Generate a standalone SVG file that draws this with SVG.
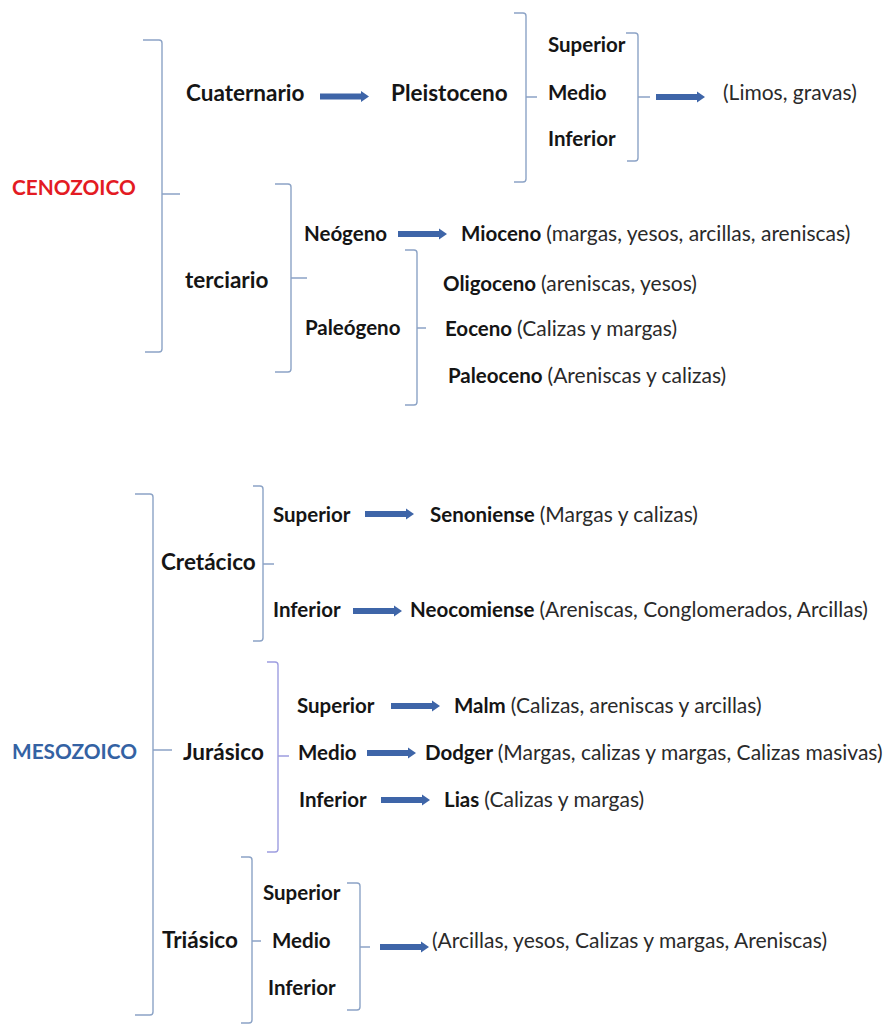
<svg xmlns="http://www.w3.org/2000/svg" xmlns:xlink="http://www.w3.org/1999/xlink" width="889" height="1024" viewBox="0 0 889 1024">
<style>
text{font-family:Lato,"Liberation Sans",sans-serif;fill:#151515}
.L{font-size:22.5px;font-weight:bold}
.S{font-size:20.5px;font-weight:bold}
.n{font-size:21px;font-weight:normal;fill:#2a2a2a}
.N{font-size:21px;font-weight:normal;fill:#2a2a2a}
.era{font-size:20.8px;font-weight:bold}
.br{fill:none;stroke:#8ca3c6;stroke-width:1.4}
.brp{fill:none;stroke:#9d9de0;stroke-width:1.4}
.ar{fill:#3e65a8}
</style>
<defs>
<path id="arr" d="M0,-3 H41 V-5.6 L49,0 L41,5.6 V3 H0 Z"/>
</defs>
<rect width="889" height="1024" fill="#ffffff"/>
<g id="connectors">
<path class="br" d="M143,40 H159 Q162,40 162,43 V349 Q162,352 159,352 H145 M162,194 H180"/>
<path class="br" d="M514,13 H523 Q526,13 526,16 V179 Q526,182 523,182 H514 M526,97 H537"/>
<path class="br" d="M626,33 H635 Q638,33 638,36 V158 Q638,161 635,161 H627 M638,97 H650"/>
<path class="br" d="M275,184 H288 Q291,184 291,187 V369 Q291,372 288,372 H275 M291,278 H307"/>
<path class="br" d="M405,250 H414 Q417,250 417,253 V402 Q417,405 414,405 H405 M417,328 H426"/>
<path class="br" d="M135,494 H150 Q153,494 153,497 V1012 Q153,1015 150,1015 H135 M153,750 H172"/>
<path class="br" d="M253,486 H260 Q263,486 263,489 V638 Q263,641 260,641 H253 M263,564 H274"/>
<path class="brp" d="M267,662 H275 Q278,662 278,665 V849 Q278,852 275,852 H267 M278,756 H289"/>
<path class="br" d="M241,857 H249 Q252,857 252,860 V1020 Q252,1023 249,1023 H241 M252,941 H261"/>
<path class="br" d="M347,883 H357 Q360,883 360,886 V1007 Q360,1010 357,1010 H347 M360,947 H370"/>
<use class="ar" href="#arr" x="320" y="96.5"/>
<use class="ar" href="#arr" x="656" y="97"/>
<use class="ar" href="#arr" x="398" y="234"/>
<use class="ar" href="#arr" x="365" y="514"/>
<use class="ar" href="#arr" x="353" y="611"/>
<use class="ar" href="#arr" x="391" y="706"/>
<use class="ar" href="#arr" x="367" y="753"/>
<use class="ar" href="#arr" x="381" y="800"/>
<use class="ar" href="#arr" x="380" y="947"/>
</g>
<g id="cenozoico"><text class="era" x="12" y="195" style="fill:#e31b23">CENOZOICO</text></g>
<g id="cuaternario"><text class="L" x="186" y="101">Cuaternario</text></g>
<g id="pleistoceno"><text class="L" x="391" y="101">Pleistoceno</text></g>
<g id="pl-superior"><text class="S" x="548" y="52">Superior</text></g>
<g id="pl-medio"><text class="S" x="548" y="100">Medio</text></g>
<g id="pl-inferior"><text class="S" x="548" y="146">Inferior</text></g>
<g id="limos"><text class="N" x="723" y="100">(Limos, gravas)</text></g>
<g id="terciario"><text class="L" x="185" y="288">terciario</text></g>
<g id="neogeno"><text class="S" x="304" y="241">Neógeno</text></g>
<g id="mioceno"><text class="S" x="461" y="241">Mioceno <tspan class="n">(margas, yesos, arcillas, areniscas)</tspan></text></g>
<g id="paleogeno"><text class="S" x="305" y="335">Paleógeno</text></g>
<g id="oligoceno"><text class="S" x="443" y="291">Oligoceno <tspan class="n">(areniscas, yesos)</tspan></text></g>
<g id="eoceno"><text class="S" x="445" y="336">Eoceno <tspan class="n">(Calizas y margas)</tspan></text></g>
<g id="paleoceno"><text class="S" x="448" y="383">Paleoceno <tspan class="n">(Areniscas y calizas)</tspan></text></g>
<g id="mesozoico"><text class="era" x="12" y="759" style="fill:#3462a3">MESOZOICO</text></g>
<g id="cretacico"><text class="L" x="161" y="570">Cretácico</text></g>
<g id="cr-superior"><text class="S" x="273" y="522">Superior</text></g>
<g id="senoniense"><text class="S" x="430" y="522">Senoniense <tspan class="n">(Margas y calizas)</tspan></text></g>
<g id="cr-inferior"><text class="S" x="273" y="617">Inferior</text></g>
<g id="neocomiense"><text class="S" x="410" y="617">Neocomiense <tspan class="n">(Areniscas, Conglomerados, Arcillas)</tspan></text></g>
<g id="jurasico"><text class="L" x="183" y="760">Jurásico</text></g>
<g id="ju-superior"><text class="S" x="297" y="713">Superior</text></g>
<g id="malm"><text class="S" x="454" y="713">Malm <tspan class="n">(Calizas, areniscas y arcillas)</tspan></text></g>
<g id="ju-medio"><text class="S" x="298" y="760">Medio</text></g>
<g id="dodger"><text class="S" x="425" y="760">Dodger <tspan class="n">(Margas, calizas y margas, Calizas masivas)</tspan></text></g>
<g id="ju-inferior"><text class="S" x="299" y="807">Inferior</text></g>
<g id="lias"><text class="S" x="444" y="807">Lias <tspan class="n">(Calizas y margas)</tspan></text></g>
<g id="triasico"><text class="L" x="162" y="948">Triásico</text></g>
<g id="tr-superior"><text class="S" x="263" y="900">Superior</text></g>
<g id="tr-medio"><text class="S" x="272" y="948">Medio</text></g>
<g id="tr-inferior"><text class="S" x="268" y="995">Inferior</text></g>
<g id="tr-rocas"><text class="N" x="432" y="948">(Arcillas, yesos, Calizas y margas, Areniscas)</text></g>
</svg>
